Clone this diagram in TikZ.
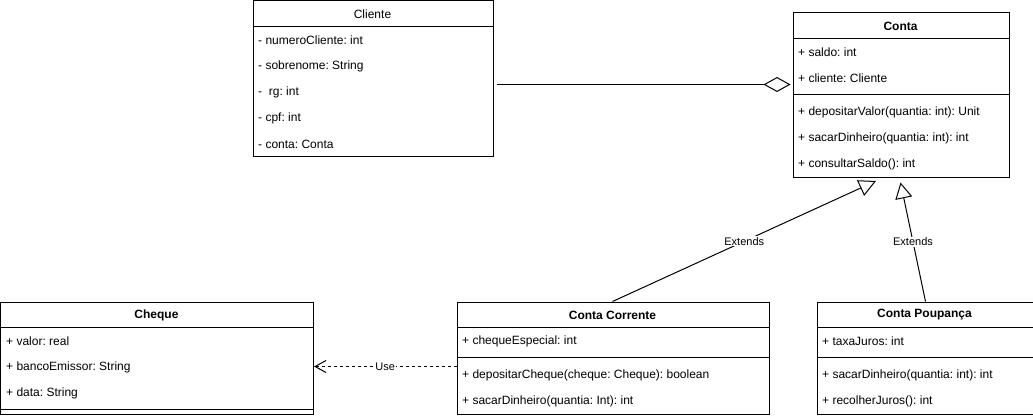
\documentclass[tikz,border=0pt]{standalone}
\usepackage{fontspec}
\setmainfont{Liberation Sans}
\usetikzlibrary{arrows.meta}
\frenchspacing
\begin{document}
\begin{tikzpicture}[x=1pt,y=-1pt,
  every node/.style={font=\fontsize{12}{14}\selectfont},
  classbox/.style={draw, line width=1pt, anchor=north west, inner sep=0pt},
  sep/.style={line width=1pt},
  attr/.style={anchor=west, inner sep=0pt},
  ttl/.style={inner sep=0pt},
  lbl/.style={fill=white, inner sep=1pt, font=\fontsize{11}{13}\selectfont},
  conn/.style={line width=1pt},
]
\useasboundingbox (-0.5,-0.5) rectangle (1032.5,416.5);

% Cliente
\node[classbox, minimum width=240pt, minimum height=156pt] (cliente) at (252,0) {};
\draw[sep] (252,26) -- (492,26);
\node[ttl] (clienteT) at (372,13.5) {Cliente};
\node[attr] (c1) at (257.5,39.5) {- numeroCliente: int};
\node[attr] (c2) at (257.5,65.5) {- sobrenome: String};
\node[attr] (c3) at (257.5,91.5) {-~ rg: int};
\node[attr] (c4) at (257.5,117.5) {- cpf: int};
\node[attr] (c5) at (257.5,143.5) {- conta: Conta};

% Conta
\node[classbox, minimum width=216pt, minimum height=164pt] (conta) at (792,12) {};
\draw[sep] (792,38) -- (1008,38);
\draw[sep] (792,94) -- (1008,94);
\node[ttl] (contaT) at (900,25.5) {\bfseries Conta};
\node[attr] (k1) at (797.5,51.5) {+ saldo: int};
\node[attr] (k2) at (797.5,77.5) {+ cliente: Cliente};
\node[attr] (k3) at (797.5,111.5) {+ depositarValor(quantia: int): Unit};
\node[attr] (k4) at (797.5,137.5) {+ sacarDinheiro(quantia: int): int};
\node[attr] (k5) at (797.5,163.5) {+ consultarSaldo(): int};

% Cheque
\node[classbox, minimum width=312pt, minimum height=112pt] (cheque) at (0,301) {};
\draw[sep] (0,327) -- (312,327);
\draw[sep] (0,409) -- (312,409);
\node[ttl] (chequeT) at (156,314.5) {\bfseries Cheque};
\node[attr] (q1) at (5.5,340.5) {+ valor: real};
\node[attr] (q2) at (5.5,366.5) {+ bancoEmissor: String};
\node[attr] (q3) at (5.5,392.5) {+ data: String};

% Conta Corrente
\node[classbox, minimum width=312pt, minimum height=112pt] (cc) at (456,301) {};
\draw[sep] (456,327) -- (768,327);
\draw[sep] (456,357) -- (768,357);
\node[ttl] (ccT) at (612,314.5) {\bfseries Conta Corrente};
\node[attr] (r1) at (461.5,340.5) {+ chequeEspecial: int};
\node[attr] (r2) at (461.5,374.5) {+ depositarCheque(cheque: Cheque): boolean};
\node[attr] (r3) at (461.5,400.5) {+ sacarDinheiro(quantia: Int): int};

% Conta Poupanca
\node[classbox, minimum width=216pt, minimum height=112pt] (cp) at (816,301) {};
\draw[sep] (816,327) -- (1032,327);
\draw[sep] (816,357) -- (1032,357);
\node[ttl] (cpT) at (924,314.5) {\bfseries Conta Poupança};
\node[attr] (p1) at (821.5,340.5) {+ taxaJuros: int};
\node[attr] (p2) at (821.5,374.5) {+ sacarDinheiro(quantia: int): int};
\node[attr] (p3) at (821.5,400.5) {+ recolherJuros(): int};

% connector end points
\coordinate (aggS) at (496,84);
\coordinate (aggE) at (790,84);
\coordinate (ext1S) at (612,301);
\coordinate (ext1E) at (875.5,180.5);
\coordinate (ext2S) at (925,301);
\coordinate (ext2E) at (900,182);
\coordinate (useS) at (456,366);
\coordinate (useE) at (313.5,366);

% aggregation
\draw[conn, -{Diamond[open, length=27pt, width=15pt, line width=1pt]}] (aggS) -- (aggE);

% extends
\draw[conn, -{Triangle[open, length=17pt, width=17pt, line width=1pt]}] (ext1S) -- node[lbl, pos=0.5] (e1) {Extends} (ext1E);
\draw[conn, -{Triangle[open, length=16pt, width=17pt, line width=1pt]}] (ext2S) -- node[lbl, pos=0.5] (e2) {Extends} (ext2E);

% use
\draw[conn, dash pattern=on 3pt off 3pt, -{Straight Barb[length=11pt, width=12pt, line width=1pt]}] (useS) -- node[lbl, pos=0.5, inner ysep=0pt] (u) {Use} (useE);
\end{tikzpicture}
\end{document}
